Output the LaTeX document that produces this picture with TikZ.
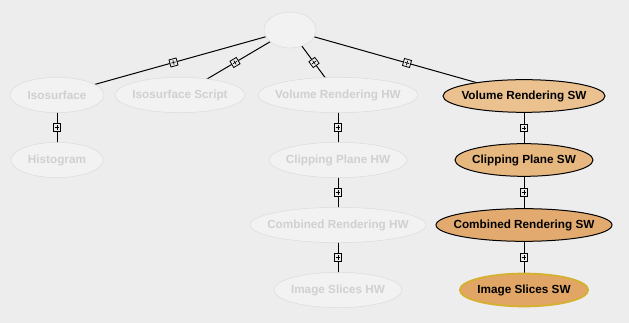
\documentclass[tikz,border=0pt]{standalone}
\usepackage{fontspec}
\setmainfont{Liberation Sans}
\usetikzlibrary{shapes.geometric,backgrounds}

\definecolor{paper}{RGB}{237,237,237}
\definecolor{offfill}{RGB}{242,242,242}
\definecolor{offline}{RGB}{220,220,220}
\definecolor{offtext}{RGB}{208,208,208}
\definecolor{selA}{RGB}{234,193,143}
\definecolor{selB}{RGB}{231,183,128}
\definecolor{selC}{RGB}{227,170,112}
\definecolor{selD}{RGB}{225,166,102}
\definecolor{selring}{RGB}{214,176,52}

% text of a feature, kept out of the ellipse size
\newcommand{\ftr}[1]{\makebox[0pt]{#1}}

\begin{document}
\begin{tikzpicture}[x=0.75pt, y=-0.75pt,
font=\fontsize{8.8}{10}\selectfont\bfseries,
feat/.style={ellipse, inner sep=0pt, minimum height=25.5pt, minimum width={#1*0.75pt}},
off/.style={feat=#1, draw=offline, fill=offfill, text=offtext, minimum height=26.5pt},
on/.style={feat=#1, draw=black, line width=0.75pt, minimum height=24.5pt},
link/.style={black, line width=0.75pt},
jbox/.style={draw=black, fill=paper, line width=0.6pt, inner sep=0pt,
    minimum size=5.5pt, sloped,
    path picture={\draw[line width=0.5pt]
        ([xshift=-1.7pt]path picture bounding box.center) -- ([xshift=1.7pt]path picture bounding box.center)
        ([yshift=-1.7pt]path picture bounding box.center) -- ([yshift=1.7pt]path picture bounding box.center);}}]

% features
\node[off=52, minimum height=27pt] (root) at (290,30) {};
\node[off=94] (iso) at (57,95) {\ftr{Isosurface}};
\node[off=130] (isoscr) at (180,95) {\ftr{Isosurface Script}};
\node[off=160] (volhw) at (338,95) {\ftr{Volume Rendering HW}};
\node[on=162, fill=selA] (volsw) at (524,96) {\ftr{Volume Rendering SW}};
\node[off=92] (hist) at (57,160) {\ftr{Histogram}};
\node[off=138] (cliphw) at (338,160) {\ftr{Clipping Plane HW}};
\node[on=138, fill=selB] (clipsw) at (524,160) {\ftr{Clipping Plane SW}};
\node[off=176] (combhw) at (338,225) {\ftr{Combined Rendering HW}};
\node[on=176, fill=selC] (combsw) at (524,225) {\ftr{Combined Rendering SW}};
\node[off=128] (slicehw) at (338,290) {\ftr{Image Slices HW}};
\node[on=128, fill=selD, draw=selring, line width=1.5pt] (slicesw) at (524,290) {\ftr{Image Slices SW}};

% links between features
\begin{scope}[on background layer]
\fill[paper] (0,0) rectangle (629,323);
\foreach \a/\b in {root/iso, root/isoscr, root/volhw, root/volsw,
    iso/hist, volhw/cliphw, cliphw/combhw, combhw/slicehw,
    volsw/clipsw, clipsw/combsw, combsw/slicesw}
  \draw[link] (\a.center) -- node[jbox] {} (\b.center);
\end{scope}
\end{tikzpicture}
\end{document}
